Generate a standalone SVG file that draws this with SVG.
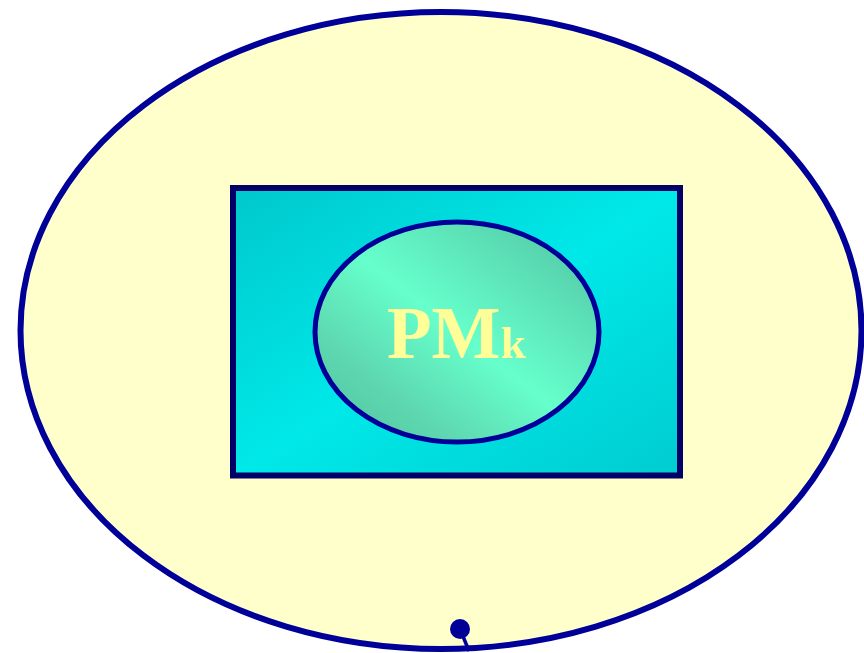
<svg xmlns="http://www.w3.org/2000/svg" width="864" height="653" viewBox="0 0 864 653">
<defs>
<linearGradient id="gRect" x1="0" y1="0" x2="1" y2="1">
<stop offset="0" stop-color="#00C8CC"/>
<stop offset="0.5" stop-color="#00E8E8"/>
<stop offset="1" stop-color="#00CCD0"/>
</linearGradient>
<linearGradient id="gEll" x1="0" y1="1" x2="1" y2="0">
<stop offset="0" stop-color="#50C0A0"/>
<stop offset="0.25" stop-color="#5ED8B0"/>
<stop offset="0.5" stop-color="#66FFCC"/>
<stop offset="0.75" stop-color="#5CE0B6"/>
<stop offset="1" stop-color="#50C0A0"/>
</linearGradient>
<style>
.txt{font-family:"Liberation Serif","Times New Roman",serif;font-weight:bold;fill:#FFFF99}
</style>
</defs>
<rect x="0" y="0" width="864" height="653" fill="#FFFFFF"/>
<g id="outer">
<ellipse cx="441" cy="330.5" rx="420.5" ry="318.5" fill="#FFFFCC" stroke="#000099" stroke-width="6"/>
</g>
<g id="box">
<rect x="233" y="188" width="447" height="287.5" fill="url(#gRect)" stroke="#000066" stroke-width="6"/>
</g>
<g id="pmk">
<ellipse cx="457" cy="332" rx="142" ry="110" fill="url(#gEll)" stroke="#000099" stroke-width="5"/>
<text class="txt" x="387" y="358" font-size="73">PM<tspan font-size="45">k</tspan></text>
</g>
<g id="connectors">
<line x1="460" y1="629" x2="469" y2="651" stroke="#000099" stroke-width="3.5"/>
<circle cx="460" cy="629" r="10" fill="#000099"/>
</g>
</svg>
